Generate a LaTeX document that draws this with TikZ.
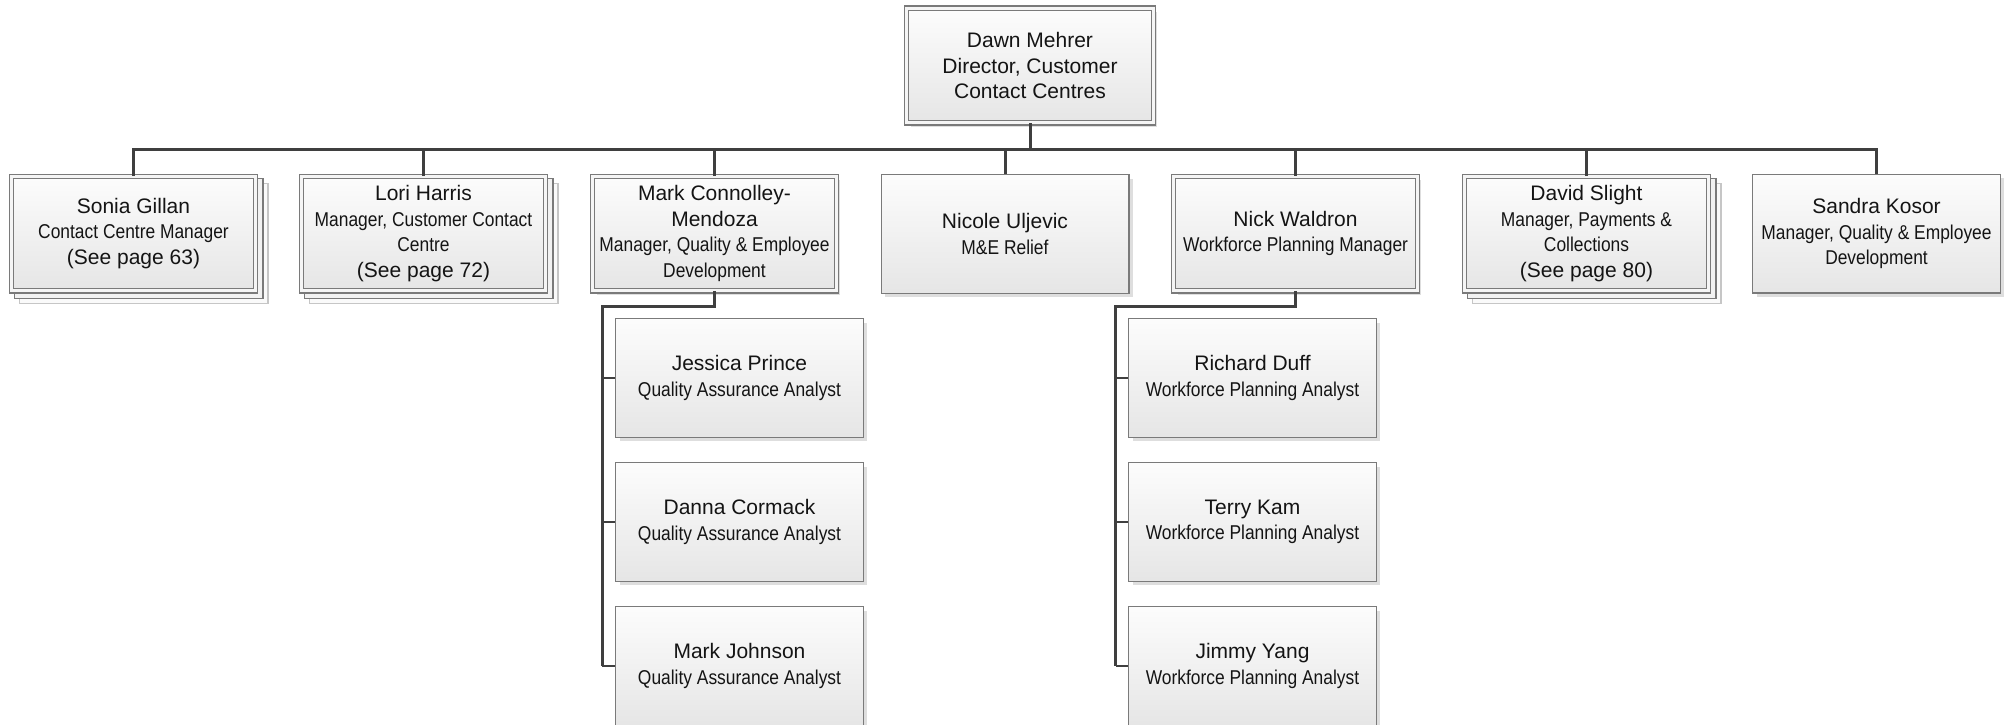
\documentclass[tikz,border=0pt]{standalone}
\usepackage{fontspec}
\setmainfont{Liberation Sans}
\newfontfamily\narrowfont[FakeStretch=0.87]{Liberation Sans}
\usetikzlibrary{shadows,backgrounds}

\definecolor{linkgray}{HTML}{3F3F3F}
\definecolor{framegray}{HTML}{7A7A7A}
\definecolor{shadegray}{HTML}{DEDEDE}

\newcommand\jobtitle[1]{{\narrowfont\fontsize{20}{25.5}\selectfont #1}}

\tikzset{
  card/.style={rectangle, draw=framegray, line width=1.2pt,
    top color=white!99!black, bottom color=white!90!black,
    minimum width=247.8pt, minimum height=118.8pt, align=center,
    inner sep=0pt, text=black!92,
    font=\fontsize{21}{25.5}\selectfont},
  shadowed/.style={drop shadow={shadow xshift=4pt, shadow yshift=-4pt,
    fill=shadegray, opacity=1}},
  dcard/.style={card, double=white!96!black, double distance=3pt,
    minimum width=243.6pt, minimum height=114.6pt},
  stackmid/.style={draw=framegray, line width=1.2pt, fill=white!95!black},
  stackback/.style={draw=gray!45, line width=1.2pt, fill=white!98!black},
  conn/.style={draw=linkgray, line width=3pt},
  stub/.style={draw=linkgray, line width=2pt},
}

\begin{document}
\begin{tikzpicture}[x=1pt, y=-1pt]
  \useasboundingbox (0,0) rectangle (2013,725);

  % director
  \node[dcard, shadowed, minimum width=246.6pt] (dawn) at (1030,65.5)
    {Dawn Mehrer\\Director, Customer\\Contact Centres};

  % managers
  \node[dcard] (sonia) at (133.5,233.5)
    {Sonia Gillan\\\jobtitle{Contact Centre Manager}\\(See page 63)};
  \node[dcard] (lori) at (423.5,233.5)
    {Lori Harris\\\jobtitle{Manager, Customer Contact}\\\jobtitle{Centre}\\(See page 72)};
  \node[dcard, shadowed] (mark) at (714.5,233.5)
    {Mark Connolley-\\Mendoza\\\jobtitle{Manager, Quality \& Employee}\\\jobtitle{Development}};
  \node[card, shadowed] (nicole) at (1005,234)
    {Nicole Uljevic\\\jobtitle{M\&E Relief}};
  \node[dcard, shadowed] (nick) at (1295.5,233.5)
    {Nick Waldron\\\jobtitle{Workforce Planning Manager}};
  \node[dcard] (david) at (1586.5,233.5)
    {David Slight\\\jobtitle{Manager, Payments \&}\\\jobtitle{Collections}\\(See page 80)};
  \node[card, shadowed] (sandra) at (1876.5,233.5)
    {Sandra Kosor\\\jobtitle{Manager, Quality \& Employee}\\\jobtitle{Development}};

  % quality team
  \node[card, shadowed] (jessica) at (739.5,378)
    {Jessica Prince\\\jobtitle{Quality Assurance Analyst}};
  \node[card, shadowed] (danna) at (739.5,522)
    {Danna Cormack\\\jobtitle{Quality Assurance Analyst}};
  \node[card, shadowed] (johnson) at (739.5,666)
    {Mark Johnson\\\jobtitle{Quality Assurance Analyst}};

  % workforce planning team
  \node[card, shadowed] (richard) at (1252.5,378)
    {Richard Duff\\\jobtitle{Workforce Planning Analyst}};
  \node[card, shadowed] (terry) at (1252.5,522)
    {Terry Kam\\\jobtitle{Workforce Planning Analyst}};
  \node[card, shadowed] (jimmy) at (1252.5,666)
    {Jimmy Yang\\\jobtitle{Workforce Planning Analyst}};

  % stacked copies behind the managers with further pages
  \begin{scope}[on background layer]
    \foreach \n in {sonia, lori, david} {
      \draw[stackback] ([shift={(8pt,-12pt)}]\n.south west)
        rectangle ([shift={(12pt,-8pt)}]\n.north east);
      \draw[stackmid] ([shift={(3pt,-7pt)}]\n.south west)
        rectangle ([shift={(7pt,-3pt)}]\n.north east);
    }
  \end{scope}

  % reporting lines
  \coordinate (bus) at (1030,149);
  \coordinate (qjoint) at (602,306);
  \coordinate (wjoint) at (1115.5,306);

  \draw[conn] (dawn.south) -- (dawn.south |- bus);
  \draw[conn] (sonia.north) |- (bus -| sandra.north) -- (sandra.north);
  \foreach \n in {lori, mark, nicole, nick, david}
    \draw[conn] (\n.north) -- (\n.north |- bus);

  \draw[conn] (mark.south) |- (qjoint) -- (qjoint |- johnson.west);
  \foreach \n in {jessica, danna, johnson}
    \draw[stub] (qjoint |- \n.west) -- (\n.west);

  \draw[conn] (nick.south) |- (wjoint) -- (wjoint |- jimmy.west);
  \foreach \n in {richard, terry, jimmy}
    \draw[stub] (wjoint |- \n.west) -- (\n.west);
\end{tikzpicture}
\end{document}
